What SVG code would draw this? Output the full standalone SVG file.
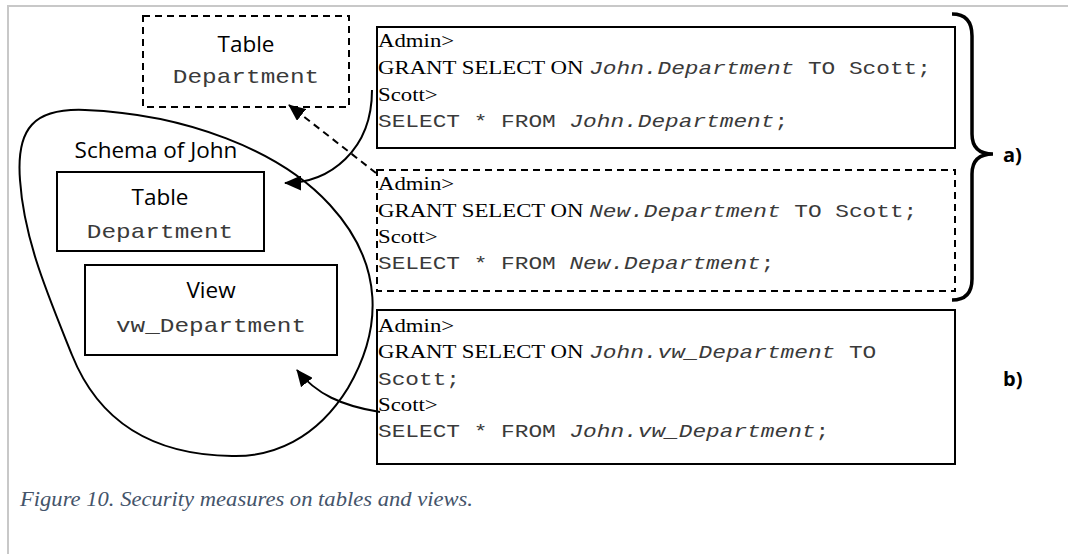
<svg xmlns="http://www.w3.org/2000/svg" width="1068" height="554" viewBox="0 0 1068 554">
<defs>
<style>
.frame{stroke:#c8c8c8;stroke-width:2;fill:none}
.box{fill:#fff;stroke:#000;stroke-width:2}
.dash{stroke-dasharray:7 5}
.lbl{font-family:"Open Sans","Liberation Sans",sans-serif;font-size:22.5px;fill:#000;text-anchor:middle}
.mono{font-family:"Liberation Mono","Courier New",monospace;font-size:20px;fill:#3a3a3a;text-anchor:middle}
.cmd{font-family:"Liberation Serif","Times New Roman",serif;font-size:19px;fill:#000}
.code{font-family:"Liberation Mono","Courier New",monospace;font-size:19px;fill:#3a3a3a}
.it{font-style:italic}
.conn{fill:none;stroke:#000;stroke-width:2}
.tag{font-family:"Open Sans","Liberation Sans",sans-serif;font-size:20px;font-weight:bold;fill:#000}
.cap{font-family:"Liberation Serif","Times New Roman",serif;font-style:italic;font-size:22px;fill:#44546a}
</style>
<marker id="ah" viewBox="0 0 17 15" refX="16" refY="7.5" markerWidth="8.5" markerHeight="7.5" orient="auto" markerUnits="strokeWidth">
<path d="M0,0 L17,7.5 L0,15 z" fill="#000"/>
</marker>
</defs>
<rect width="1068" height="554" fill="#fff"/>
<path class="frame" d="M7,6 H1068 M8,6 V554"/>

<g id="schema">
<path d="M20,180 C16,128 34,108 85,110 C185,114 280,150 330,205 C385,265 382,330 348,388 C316,440 272,457 232,456 C150,455 98,420 72,355 C48,295 24,240 20,180 Z" fill="none" stroke="#000" stroke-width="2"/>
<text class="lbl" x="156" y="158">Schema of John</text>
</g>

<g id="table-new">
<rect class="box dash" x="143" y="16" width="206" height="91"/>
<text class="lbl" x="246" y="52">Table</text>
<text class="mono" transform="translate(246,83) scale(1.22,1)">Department</text>
</g>

<g id="table-john">
<rect class="box" x="57" y="172" width="207" height="79"/>
<text class="lbl" x="160" y="205">Table</text>
<text class="mono" transform="translate(160,238) scale(1.22,1)">Department</text>
</g>

<g id="view-john">
<rect class="box" x="85" y="265" width="252" height="90"/>
<text class="lbl" x="211" y="298">View</text>
<text class="mono" transform="translate(211,332) scale(1.22,1)">vw_Department</text>
</g>

<g id="cmd-a1">
<rect class="box" x="377" y="27" width="578" height="121"/>
<text class="cmd" transform="translate(378,47) scale(1.2,1)">Admin&gt;</text>
<text class="cmd" transform="translate(378,74) scale(1.2,1)">GRANT SELECT ON <tspan class="code it">John.Department</tspan><tspan class="code"> TO Scott;</tspan></text>
<text class="cmd" transform="translate(378,101) scale(1.2,1)">Scott&gt;</text>
<text class="code" transform="translate(378,127) scale(1.2,1)">SELECT * FROM <tspan class="it">John.Department</tspan>;</text>
</g>

<g id="cmd-a2">
<rect class="box dash" x="377" y="170" width="578" height="121"/>
<text class="cmd" transform="translate(378,190) scale(1.2,1)">Admin&gt;</text>
<text class="cmd" transform="translate(378,217) scale(1.2,1)">GRANT SELECT ON <tspan class="code it">New.Department</tspan><tspan class="code"> TO Scott;</tspan></text>
<text class="cmd" transform="translate(378,243) scale(1.2,1)">Scott&gt;</text>
<text class="code" transform="translate(378,269) scale(1.2,1)">SELECT * FROM <tspan class="it">New.Department</tspan>;</text>
</g>

<g id="cmd-b">
<rect class="box" x="377" y="310" width="578" height="154"/>
<text class="cmd" transform="translate(378,332) scale(1.2,1)">Admin&gt;</text>
<text class="cmd" transform="translate(378,358) scale(1.2,1)">GRANT SELECT ON <tspan class="code it">John.vw_Department</tspan><tspan class="code"> TO</tspan></text>
<text class="code" transform="translate(378,385) scale(1.2,1)">Scott;</text>
<text class="cmd" transform="translate(378,411) scale(1.2,1)">Scott&gt;</text>
<text class="code" transform="translate(378,437) scale(1.2,1)">SELECT * FROM <tspan class="it">John.vw_Department</tspan>;</text>
</g>

<g id="connectors">
<path class="conn" d="M372,90 C372,150 330,183 285,183" marker-end="url(#ah)"/>
<path class="conn dash" d="M376,173 L289,105" marker-end="url(#ah)"/>
<path class="conn" d="M380,412 C342,406 316,394 297,370" marker-end="url(#ah)"/>
</g>

<g id="brace">
<path d="M952,14 C965,14 972,21 972,36 L972,134 C972,148 980,154 993,154 C980,154 972,160 972,174 L972,279 C972,293 965,300 952,300" fill="none" stroke="#000" stroke-width="3.5"/>
<text class="tag" x="1003" y="162">a)</text>
<text class="tag" x="1003" y="386">b)</text>
</g>

<text class="cap" x="20" y="506" textLength="453" lengthAdjust="spacingAndGlyphs">Figure 10. Security measures on tables and views.</text>
</svg>
